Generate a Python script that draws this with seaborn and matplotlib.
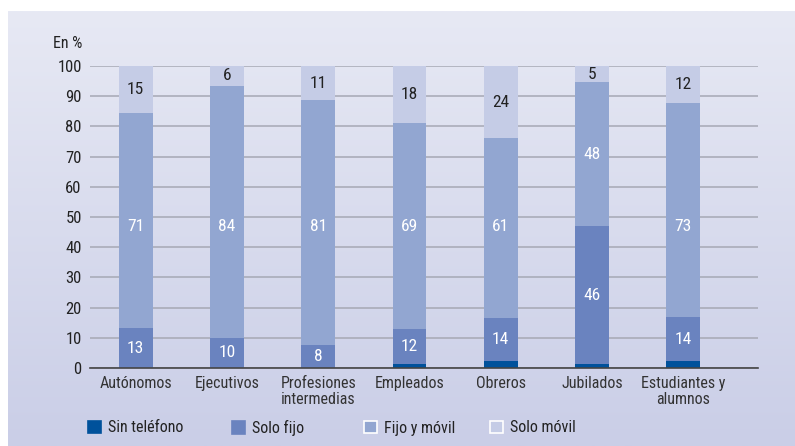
import numpy as np
import pandas as pd
import matplotlib
matplotlib.use('Agg')
import matplotlib.pyplot as plt
from matplotlib.patches import Patch
from matplotlib.ticker import FixedLocator
import seaborn as sns

# datos
categorias = ['Autónomos', 'Ejecutivos', 'Profesiones\nintermedias', 'Empleados',
              'Obreros', 'Jubilados', 'Estudiantes y\nalumnos']
sin_telefono = [0.0, 0.0, 0.0, 1.2, 2.2, 1.2, 2.2]
solo_fijo = [13.2, 10.0, 7.6, 11.7, 14.4, 45.8, 14.7]
fijo_movil = [71.2, 83.5, 81.1, 68.2, 59.4, 47.7, 70.8]
solo_movil = [15.6, 6.5, 11.3, 18.9, 24.0, 5.3, 12.3]
etiq_fijo = ['13', '10', '8', '12', '14', '46', '14']
etiq_fm = ['71', '84', '81', '69', '61', '48', '73']
etiq_movil = ['15', '6', '11', '18', '24', '5', '12']

series = ['Sin teléfono', 'Solo fijo', 'Fijo y móvil', 'Solo móvil']
colores = ['#00519b', '#6a83bf', '#92a6d1', '#c5cce6']

sns.set_style('white')
plt.rcParams['font.family'] = ['Roboto Condensed', 'Liberation Sans', 'DejaVu Sans']
fs = 11.5

df = pd.DataFrame({'cat': categorias, 'Sin teléfono': sin_telefono, 'Solo fijo': solo_fijo,
                   'Fijo y móvil': fijo_movil, 'Solo móvil': solo_movil})
acum = df[series].cumsum(axis=1)

fig = plt.figure(figsize=(7.95, 4.46), dpi=100)
fig.patch.set_facecolor('white')

# fondo degradado
bg = fig.add_axes([8 / 795, 0, 787 / 795, 435 / 446], zorder=-1)
grad = np.linspace(0, 1, 256).reshape(-1, 1)
cmap = matplotlib.colors.LinearSegmentedColormap.from_list('bg', ['#e7e9f4', '#cacee7'])
bg.imshow(grad, aspect='auto', cmap=cmap, extent=[0, 1, 0, 1])
bg.axis('off')

ax = fig.add_axes([90 / 795, 1 - 368 / 446, 668 / 795, 302 / 446])
ax.patch.set_alpha(0)

for s, c in zip(series[::-1], colores[::-1]):
    sns.barplot(x=df['cat'], y=acum[s], color=c, width=0.37, ax=ax, zorder=3,
                saturation=1, linewidth=0)

ax.set_xlim(-0.5, 6.82)
ax.set_ylim(0, 100)
ax.set_yticks(range(0, 101, 10))
ax.set_xlabel('')
ax.set_ylabel('')
ax.grid(axis='y', color='#a6a8b4', lw=1.1, zorder=1)
ax.set_axisbelow(True)
for sp in ['top', 'right', 'left']:
    ax.spines[sp].set_visible(False)
ax.spines['bottom'].set_color('#444444')
ax.spines['bottom'].set_linewidth(1.2)
ax.spines['bottom'].set_zorder(4)

ax.tick_params(axis='y', length=0, labelsize=fs + 0.5, labelcolor='#222222', pad=6)
ax.tick_params(axis='x', which='major', length=0, labelsize=fs, labelcolor='#333333', pad=6)
for lb in ax.get_xticklabels():
    lb.set_linespacing(1.06)
ax.xaxis.set_minor_locator(FixedLocator(np.arange(-0.5, 7, 1)))
ax.tick_params(axis='x', which='minor', length=6, width=1.2, color='#444444', direction='out')

x = np.arange(len(categorias))
base_fijo = np.array(sin_telefono)
base_fm = base_fijo + np.array(solo_fijo)
base_mov = base_fm + np.array(fijo_movil)
for i in x:
    ax.text(i, base_fijo[i] + solo_fijo[i] / 2, etiq_fijo[i], ha='center', va='center',
            color='white', fontsize=fs + 1, zorder=5)
    ax.text(i, base_fm[i] + fijo_movil[i] / 2 if i == 5 else 46.7, etiq_fm[i], ha='center',
            va='center', color='white', fontsize=fs + 1, zorder=5)
    ax.text(i, base_mov[i] + solo_movil[i] / 2, etiq_movil[i], ha='center', va='center',
            color='#222222', fontsize=fs + 1, zorder=5)

fig.text(53 / 795, 1 - 44 / 446, 'En %', fontsize=fs, color='#222222', va='center')

# leyenda: una entrada por posicion
pos_ley = [88, 232, 364, 490]
for i, (s, c, px) in enumerate(zip(series, colores, pos_ley)):
    h = Patch(facecolor=c, edgecolor='white' if i >= 2 else c, linewidth=1.2, label=s)
    fig.legend(handles=[h], loc='center left', bbox_to_anchor=(px / 795, 1 - 428 / 446),
               frameon=False, fontsize=fs, handlelength=0.8, handleheight=0.8,
               handletextpad=0.45, borderpad=0, borderaxespad=0, labelcolor='#222222')

fig.savefig('out.png', dpi=100)
